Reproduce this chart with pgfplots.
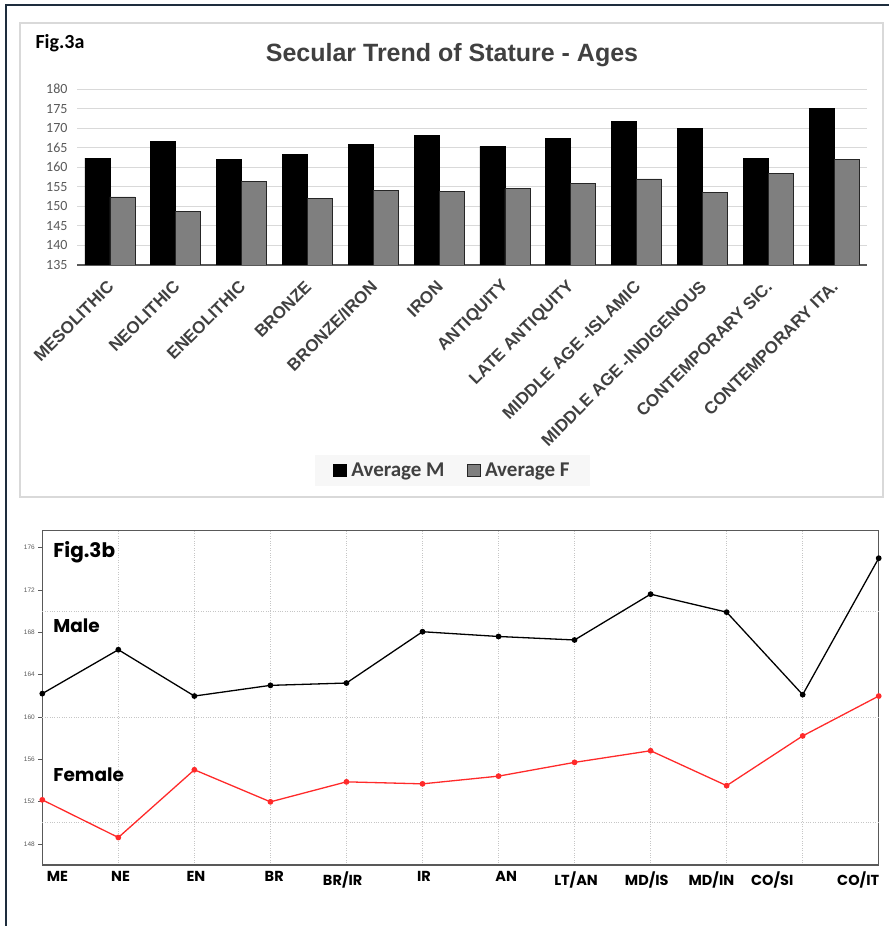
\documentclass[border=0pt]{standalone}
\usepackage{pgfplots}
\pgfplotsset{compat=1.18}
\usepackage{fontspec}
\setmainfont{Liberation Sans}
\newfontfamily\carlito{Carlito}
\newfontfamily\poppins{Poppins}
\definecolor{navyframe}{HTML}{1E2D3D}
\definecolor{boxgray}{HTML}{D9D9D9}
\definecolor{txtgray}{HTML}{404040}
\definecolor{tickgray}{HTML}{595959}
\definecolor{barF}{HTML}{7F7F7F}
\definecolor{legbg}{HTML}{F7F7F7}
\definecolor{femred}{HTML}{FF2A2A}
\begin{document}
\begin{tikzpicture}
\path[use as bounding box] (0pt,0pt) rectangle (889pt,926pt);
% outer frame (top and left)
\draw[navyframe, line width=2pt] (6pt,0pt) -- (6pt,920.5pt) -- (889pt,920.5pt);
% top chart box
\draw[boxgray, line width=1.3pt] (20pt,429pt) rectangle (883pt,903pt);
\node[anchor=west, font=\carlito\bfseries\fontsize{20}{20}\selectfont] at (32pt,883pt) {Fig.3a};
\node[font=\bfseries\fontsize{25}{25}\selectfont, text=txtgray] at (452pt,871pt) {Secular Trend of Stature - Ages};

\begin{axis}[
  at={(77pt,661pt)}, anchor=south west,
  scale only axis, width=790pt, height=176pt,
  ybar=0pt, bar width=25pt,
  xmin=-0.5, xmax=11.5, ymin=135, ymax=180,
  ytick={135,140,...,180},
  xtick={0,...,11},
  xticklabels={MESOLITHIC,NEOLITHIC,ENEOLITHIC,BRONZE,BRONZE/IRON,IRON,ANTIQUITY,LATE ANTIQUITY,MIDDLE AGE -ISLAMIC,MIDDLE AGE -INDIGENOUS,CONTEMPORARY SIC.,CONTEMPORARY ITA.},
  xticklabel style={rotate=45, anchor=east, font=\bfseries\fontsize{17}{17}\selectfont, text=txtgray, yshift=-14pt, xshift=-9.3pt},
  yticklabel style={font=\carlito\fontsize{14}{14}\selectfont, text=tickgray, xshift=-6pt},
  /pgf/number format/assume math mode=true,
  major tick length=0pt,
  axis x line*=bottom, axis y line*=left,
  x axis line style={draw=tickgray, line width=1.8pt, -},
  y axis line style={draw=none},
  ymajorgrids, grid style={boxgray, line width=0.8pt},
  legend style={at={(0.475,-1.17)}, anchor=center, legend columns=2, fill=legbg, draw=none,
    font=\carlito\bfseries\fontsize{21}{21}\selectfont, text=txtgray,
    inner xsep=18pt, inner ysep=6pt,
    /tikz/every even column/.append style={column sep=20pt}},
  legend image code/.code={\draw[#1] (0pt,-5pt) rectangle (13pt,7pt); \path[draw=none,fill=none] (0pt,0pt) -- (16pt,0pt);},
]
\addplot[fill=black, draw=black, line width=0.8pt] coordinates {
(0,162.3) (1,166.5) (2,162.1) (3,163.2) (4,165.9) (5,168.2) (6,165.3) (7,167.4) (8,171.7) (9,170.0) (10,162.2) (11,175.1)};
\addplot[fill=barF, draw=black!85, line width=0.8pt] coordinates {
(0,152.4) (1,148.7) (2,156.3) (3,152.1) (4,154.0) (5,153.9) (6,154.5) (7,155.8) (8,157.0) (9,153.6) (10,158.4) (11,162.1)};
\legend{Average M, Average F}
\end{axis}

\begin{axis}[
  at={(42.3pt,61pt)}, anchor=south west,
  scale only axis, width=836.4pt, height=334.3pt,
  xmin=0, xmax=11, ymin=146, ymax=177.6,
  xtick={0,...,11}, xticklabels={},
  ytick={148,152,...,176},
  yticklabel style={font=\fontsize{6.5}{6.5}\selectfont, text=tickgray},
  /pgf/number format/assume math mode=true,
  tick pos=left, tick align=outside,
  x tick style={draw=none},
  y tick style={draw=tickgray, line width=0.5pt},
  major tick length=4pt,
  axis line style={draw=tickgray, line width=1.2pt},
  xmajorgrids,
  grid style={gray!45, dotted, line width=0.7pt},
  extra y ticks={150,160,170}, extra y tick labels={},
  extra y tick style={grid=major, major tick length=0pt},
  extra x ticks={0.2,1.03,2.02,3.05,3.95,5.02,6.1,7.02,7.95,8.8,9.6,10.73},
  extra x tick labels={ME,NE,EN,BR,BR/IR,IR,AN,LT/AN,MD/IS,MD/IN,CO/SI,CO/IT},
  extra x tick style={grid=none, major tick length=0pt,
    xticklabel style={font=\poppins\bfseries\fontsize{14.5}{14.5}\selectfont, text=black, yshift=-3pt}},
]
\addplot[black, line width=1.3pt, mark=*, mark size=2.2pt] coordinates {
(0,162.2) (1,166.35) (2,161.97) (3,162.98) (4,163.2) (5,168.05) (6,167.6) (7,167.27) (8,171.6) (9,169.9) (10,162.1) (11,175.0)};
\addplot[femred, line width=1.3pt, mark=*, mark size=2.2pt] coordinates {
(0,152.16) (1,148.6) (2,155.0) (3,151.97) (4,153.86) (5,153.67) (6,154.4) (7,155.7) (8,156.8) (9,153.5) (10,158.2) (11,161.97)};
\node[anchor=west, font=\poppins\bfseries\fontsize{20}{20}\selectfont] at (axis cs:0.1,175.6) {Fig.3b};
\node[anchor=west, font=\poppins\bfseries\fontsize{18.5}{18.5}\selectfont] at (axis cs:0.1,168.6) {Male};
\node[anchor=west, font=\poppins\bfseries\fontsize{18.5}{18.5}\selectfont] at (axis cs:0.1,154.5) {Female};
\end{axis}
\end{tikzpicture}
\end{document}
